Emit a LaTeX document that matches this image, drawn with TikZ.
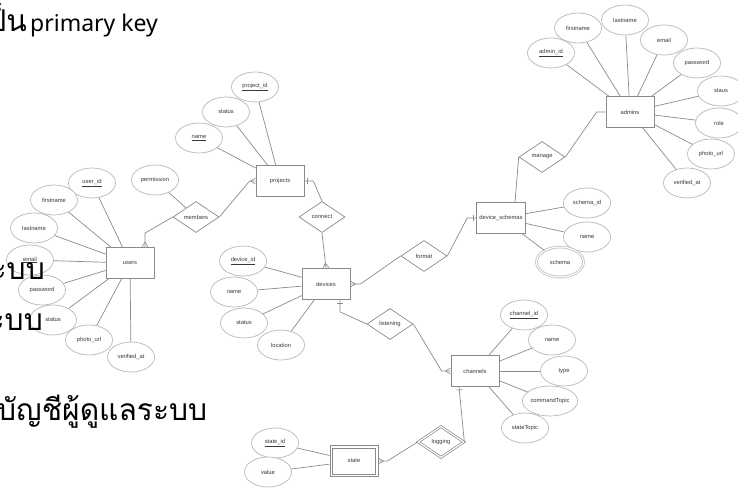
\documentclass[tikz,border=0pt]{standalone}
\usepackage{fontspec}
\setmainfont{Liberation Sans}
\newfontfamily\thaifont[Script=Thai]{Loma}
\newfontfamily\latinfont{Noto Sans}
\usetikzlibrary{shapes,arrows,decorations.markings}

\definecolor{linegray}{HTML}{8A8A8A}
\definecolor{ovalgray}{HTML}{B8B8B8}
\definecolor{labelgray}{HTML}{383838}

\begin{document}
\begin{tikzpicture}[x=1pt, y=-1pt, font=\fontsize{5.8}{7}\selectfont]

    % Define block styles
    \tikzstyle{entity} = [rectangle, draw=linegray, line width=0.7pt, fill=white,
        minimum width=48pt, minimum height=31pt, inner sep=0pt, text=labelgray]
    \tikzstyle{innerframe} = [rectangle, draw=linegray, line width=0.7pt,
        minimum width=43pt, minimum height=26pt, inner sep=0pt]
    \tikzstyle{attrib} = [ellipse, draw=ovalgray, line width=0.7pt, fill=white,
        minimum width=47pt, minimum height=30pt, inner sep=0pt, text=labelgray]
    \tikzstyle{multiattrib} = [attrib, double, double distance=1.2pt]
    \tikzstyle{relation} = [diamond, draw=linegray, line width=0.7pt, fill=white,
        minimum width=46pt, minimum height=31pt, inner sep=0pt, text=labelgray]
    \tikzstyle{weakrelation} = [relation, double, double distance=1.2pt]
    \tikzstyle{line} = [draw=linegray, line width=0.7pt]
    \tikzstyle{many} = [postaction={decorate, decoration={markings,
        mark=at position -0.1pt with {\draw[linegray, line width=0.6pt]
        (-5pt,0pt) -- (0pt,3pt) (-5pt,0pt) -- (0pt,-3pt);}}}]
    \tikzstyle{one} = [postaction={decorate, decoration={markings,
        mark=at position -3pt with {\draw[linegray, line width=0.6pt]
        (0pt,-3pt) -- (0pt,3pt);}}}]
    \tikzstyle{doc} = [inner sep=0pt, text=black, font=\thaifont\fontsize{30}{34}\selectfont]

    \useasboundingbox (0,0) rectangle (738,489);

    % Place nodes
    \node [entity] (users) at (130,263) {users};
    \node [attrib] (user_id) at (92,183) {\underline{user\_id}};
    \node [attrib] (ufirstname) at (54,200) {firstname};
    \node [attrib] (ulastname) at (34,228) {lastname};
    \node [attrib] (uemail) at (30,260) {\underline{email}};
    \node [attrib] (upassword) at (42,290) {password};
    \node [attrib] (ustatus) at (53,320) {status};
    \node [attrib] (uphoto) at (89,340) {photo\_url};
    \node [attrib] (uverified) at (131,357) {verified\_at};

    \node [attrib] (permission) at (155,180) {permission};
    \node [relation] (members) at (196,217) {members};

    \node [entity] (projects) at (280,181) {projects};
    \node [attrib] (project_id) at (255,87) {\underline{project\_id}};
    \node [attrib] (pstatus) at (226,112) {status};
    \node [attrib] (pname) at (199,138) {\underline{name}};
    \node [relation] (connect) at (322,217) {connect};

    \node [entity] (devices) at (326,284) {devices};
    \node [attrib] (device_id) at (243,261) {\underline{device\_id}};
    \node [attrib] (dname) at (234,292) {name};
    \node [attrib] (dstatus) at (244,323) {status};
    \node [attrib] (location) at (281,345) {location};
    \node [relation] (format) at (424,256) {format};
    \node [relation] (listening) at (390,324) {listening};

    \node [entity, minimum width=49pt] (schemas) at (501,218) {device\_schemas};
    \node [attrib] (schema_id) at (587,203) {schema\_id};
    \node [attrib] (sname) at (587,237) {name};
    \node [multiattrib] (schema) at (560,262) {schema};
    \node [relation] (manage) at (542,157) {manage};

    \node [entity] (admins) at (630,112) {admins};
    \node [attrib] (admin_id) at (551,53) {\underline{admin\_id}};
    \node [attrib] (afirstname) at (578,28) {firstname};
    \node [attrib] (alastname) at (625,20) {lastname};
    \node [attrib] (aemail) at (664,40) {email};
    \node [attrib] (apassword) at (697,63) {password};
    \node [attrib] (astaus) at (721,91) {staus};
    \node [attrib] (arole) at (719,123) {role};
    \node [attrib] (aphoto) at (711,154) {photo\_url};
    \node [attrib] (averified) at (687,183) {verified\_at};

    \node [entity] (channels) at (475,371) {channels};
    \node [attrib] (channel_id) at (524,315) {\underline{channel\_id}};
    \node [attrib] (cname) at (552,340) {name};
    \node [attrib] (ctype) at (564,371) {type};
    \node [attrib] (command) at (550,401) {commandTopic};
    \node [attrib] (statetopic) at (525,428) {stateTopic};
    \node [weakrelation] (logging) at (441,442) {logging};

    \node [entity] (state) at (354,461) {state};
    \node [innerframe] (stateframe) at (state.center) {};
    \node [attrib] (state_id) at (275,443) {\underline{state\_id}};
    \node [attrib] (value) at (268,472) {value};

    % Draw edges
    \foreach \a in {user_id, ufirstname, ulastname, uemail, upassword, ustatus, uphoto, uverified}
        \path [line] (users) -- (\a);
    \foreach \a in {project_id, pstatus, pname}
        \path [line] (projects) -- (\a);
    \foreach \a in {device_id, dname, dstatus, location}
        \path [line] (devices) -- (\a);
    \foreach \a in {schema_id, sname, schema}
        \path [line] (schemas) -- (\a);
    \foreach \a in {admin_id, afirstname, alastname, aemail, apassword, astaus, arole, aphoto, averified}
        \path [line] (admins) -- (\a);
    \foreach \a in {channel_id, cname, ctype, command, statetopic}
        \path [line] (channels) -- (\a);
    \foreach \a in {state_id, value}
        \path [line] (state) -- (\a);
    \path [line] (permission) -- (members);

    \path [line, many] (members.west) -- ([xshift=15pt, yshift=14pt]users.north)
        -- ([xshift=15pt]users.north);
    \path [line, many] (members.east) -- ([xshift=-6pt]projects.west) -- (projects.west);
    \path [line, one] (connect.north) -- ([xshift=9pt]projects.east) -- (projects.east);
    \path [line, many] (connect.south) -- (devices.north);
    \path [line, many] (format.west) -- ([xshift=10pt]devices.east) -- (devices.east);
    \path [line, one] (format.east) -- ([xshift=-9pt]schemas.west) -- (schemas.west);
    \path [line] (manage.west) -- ([xshift=14pt]schemas.north);
    \path [line] (manage.east) -- ([xshift=-9pt]admins.west) -- (admins.west);
    \path [line, one] (listening.west) -- ([xshift=14pt, yshift=-12pt]devices.south)
        -- ([xshift=14pt]devices.south);
    \path [line, many] (listening.east) -- ([xshift=-9pt]channels.west) -- (channels.west);
    \path [line, one] (logging.east) -- ([xshift=-16pt]channels.south);
    \path [line, many] (logging.west) -- ([xshift=9pt]state.east) -- (state.east);

    % Document text behind the diagram
    \node [doc, anchor=base east] (keythai) at (27,32) {เป็น};
    \node [doc, anchor=base west, font=\latinfont\fontsize{23}{28}\selectfont] (keytext) at (30,32) {primary key};
    \node [doc, anchor=base east] (systemone) at (45,279) {ระบบ};
    \node [doc, anchor=base east] (systemtwo) at (43,330) {ระบบ};
    \node [doc, anchor=base west] (admintext) at (-3,420) {บัญชีผู้ดูแลระบบ};

\end{tikzpicture}
\end{document}
